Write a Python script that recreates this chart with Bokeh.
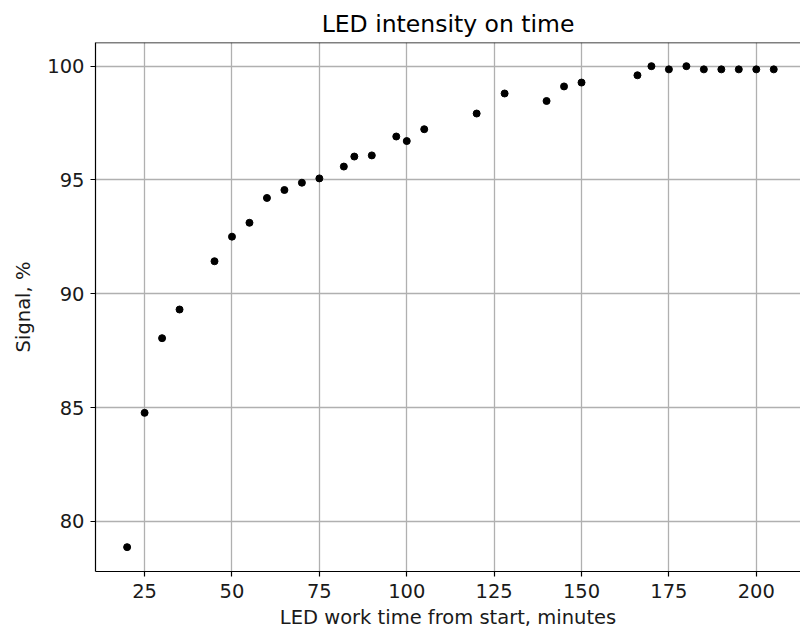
from bokeh.plotting import figure
from bokeh.models import FixedTicker, Range1d, Span
from bokeh.embed import file_html
from bokeh.resources import INLINE

# Data
time_min = [20, 25, 30, 35, 45, 50, 55, 60, 65, 70, 75, 82, 85, 90, 97, 100, 105,
            120, 128, 140, 145, 150, 166, 170, 175, 180, 185, 190, 195, 200, 205]
signal_pct = [78.87, 84.77, 88.05, 89.31, 91.43, 92.51, 93.12, 94.21, 94.56, 94.88,
              95.07, 95.59, 96.03, 96.08, 96.91, 96.71, 97.23, 97.92, 98.80, 98.47,
              99.11, 99.28, 99.60, 100.0, 99.86, 100.0, 99.86, 99.86, 99.86, 99.86, 99.86]
x_ticks = [25, 50, 75, 100, 125, 150, 175, 200]
y_ticks = [80, 85, 90, 95, 100]

FONT = "DejaVu Sans"
Y_TOP = 101.04

p = figure(width=800, height=633, output_backend="svg", toolbar_location=None,
           title="LED intensity on time",
           x_range=Range1d(10.95, 212.65), y_range=Range1d(77.80, Y_TOP),
           min_border_left=95, min_border_right=0, min_border_top=42, min_border_bottom=62)

p.title.align = "center"
p.title.text_font = FONT
p.title.text_font_size = "23.5px"
p.title.text_font_style = "normal"
p.title.text_color = "black"

p.outline_line_color = None
p.background_fill_color = "white"
p.border_fill_color = "white"

for ax, ticks in ((p.xaxis[0], x_ticks), (p.yaxis[0], y_ticks)):
    ax.ticker = FixedTicker(ticks=ticks)
    ax.minor_tick_line_color = None
    ax.major_tick_in = 0
    ax.major_tick_out = 5
    ax.major_tick_line_color = "black"
    ax.major_tick_line_width = 1.2
    ax.axis_line_color = "black"
    ax.axis_line_width = 1.2
    ax.major_label_text_font = FONT
    ax.major_label_text_font_size = "19.5px"
    ax.major_label_text_color = "#1a1a1a"
    ax.axis_label_text_font = FONT
    ax.axis_label_text_font_size = "19.5px"
    ax.axis_label_text_font_style = "normal"
    ax.axis_label_text_color = "#1a1a1a"

p.xaxis.axis_label = "LED work time from start, minutes"
p.yaxis.axis_label = "Signal, %"
p.xaxis.major_label_standoff = 7
p.xaxis.axis_label_standoff = 5
p.yaxis.major_label_standoff = 6
p.yaxis.axis_label_standoff = 9

p.grid.grid_line_color = "#b0b0b0"
p.grid.grid_line_width = 1.3
p.xgrid.ticker = FixedTicker(ticks=x_ticks)
p.ygrid.ticker = FixedTicker(ticks=y_ticks)

# top spine (the right spine is cut off in the reference)
p.add_layout(Span(location=Y_TOP, dimension="width", line_color="black", line_width=1.5))

p.scatter(time_min, signal_pct, size=7, color="black")

open("out.html", "w").write(file_html(p, INLINE))
